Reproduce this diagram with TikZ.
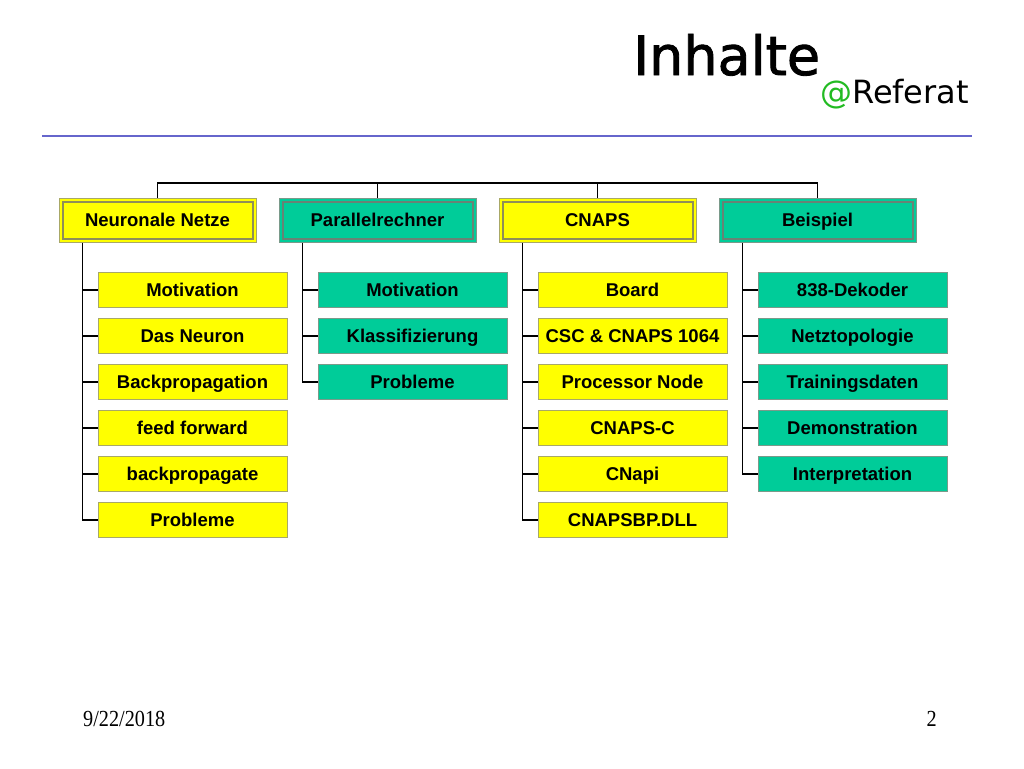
\documentclass[tikz,border=0pt]{standalone}
\usepackage{fontspec}
\setmainfont{Liberation Sans}
\newfontfamily\titlefont[BoldFont={DejaVu Sans}, BoldFeatures={FakeBold=1.6}]{DejaVu Sans}
\newfontfamily\subfont{DejaVu Sans}
\newfontfamily\footfont{Liberation Serif}
\definecolor{boxyellow}{HTML}{FFFF00}
\definecolor{boxteal}{HTML}{00CC99}
\definecolor{yborder}{HTML}{A8A868}
\definecolor{tborder}{HTML}{7A9A8A}
\definecolor{rulecol}{HTML}{6666CC}
\definecolor{atgreen}{HTML}{22BB22}
\tikzset{
  boxtext/.style={font=\bfseries\fontsize{18.5}{20}\selectfont, text=black, inner sep=0pt,
    text height=17pt, text depth=3.7pt},
  parentbox/.style={boxtext, minimum width=197pt, minimum height=44pt, line width=1pt},
  yparent/.style={parentbox, fill=boxyellow, draw=yborder},
  tparent/.style={parentbox, fill=boxteal, draw=tborder},
  childbox/.style={boxtext, minimum width=189pt, minimum height=35.5pt, line width=1pt},
  ychild/.style={childbox, fill=boxyellow, draw=yborder},
  tchild/.style={childbox, fill=boxteal, draw=tborder},
  innery/.style={draw=yborder!85!black, line width=2pt},
  innert/.style={draw=tborder!85!black, line width=2pt},
  conn/.style={draw=black, line width=1.4pt},
}
\begin{document}
\begin{tikzpicture}[x=1pt,y=-1pt]
\useasboundingbox (0,0) rectangle (1024,768);
\fill[white] (0,0) rectangle (1024,768);
% title
\node[anchor=base west, inner sep=0pt] (title) at (633,75) {\titlefont\bfseries\fontsize{54}{60}\selectfont Inhalte};
\node[anchor=base west, inner sep=0pt] (sub) at (820,103) {\subfont\fontsize{32}{36}\selectfont\textcolor{atgreen}{@}Referat};
\draw[rulecol, line width=1.2pt] (42,136) coordinate (r1) -- (972,136) coordinate (r2);
% parents
\node[yparent] (p1) at (157.5,220) {Neuronale Netze};
\node[tparent] (p2) at (377.5,220) {Parallelrechner};
\node[yparent] (p3) at (597.5,220) {CNAPS};
\node[tparent] (p4) at (817.5,220) {Beispiel};
\draw[innery] ([xshift=4pt,yshift=-4pt]p1.north west) rectangle ([xshift=-4pt,yshift=4pt]p1.south east);
\draw[innert] ([xshift=4pt,yshift=-4pt]p2.north west) rectangle ([xshift=-4pt,yshift=4pt]p2.south east);
\draw[innery] ([xshift=4pt,yshift=-4pt]p3.north west) rectangle ([xshift=-4pt,yshift=4pt]p3.south east);
\draw[innert] ([xshift=4pt,yshift=-4pt]p4.north west) rectangle ([xshift=-4pt,yshift=4pt]p4.south east);
% top bus
\coordinate (bus) at (0,183);
\draw[conn] (p1.north) -- (p1.north |- bus) -- (p4.north |- bus) -- (p4.north);
\draw[conn] (p2.north) -- (p2.north |- bus);
\draw[conn] (p3.north) -- (p3.north |- bus);
% trunks
\coordinate (ta) at ([xshift=24pt]p1.south west);
\coordinate (tb) at ([xshift=24pt]p2.south west);
\coordinate (tc) at ([xshift=24pt]p3.south west);
\coordinate (td) at ([xshift=24pt]p4.south west);
% children column 1
\foreach \t [count=\k] in {Motivation,Das Neuron,Backpropagation,feed forward,backpropagate,Probleme}{
  \node[ychild] (a\k) at (192.5,{290+46*(\k-1)}) {\t};
  \draw[conn] (ta |- a\k.west) -- (a\k.west);
}
\draw[conn] (ta) |- (a6.west);
% column 2
\foreach \t [count=\k] in {Motivation,Klassifizierung,Probleme}{
  \node[tchild] (b\k) at (412.5,{290+46*(\k-1)}) {\t};
  \draw[conn] (tb |- b\k.west) -- (b\k.west);
}
\draw[conn] (tb) |- (b3.west);
% column 3
\foreach \t [count=\k] in {Board,CSC \& CNAPS 1064,Processor Node,CNAPS-C,CNapi,CNAPSBP.DLL}{
  \node[ychild] (c\k) at (632.5,{290+46*(\k-1)}) {\t};
  \draw[conn] (tc |- c\k.west) -- (c\k.west);
}
\draw[conn] (tc) |- (c6.west);
% column 4
\foreach \t [count=\k] in {838-Dekoder,Netztopologie,Trainingsdaten,Demonstration,Interpretation}{
  \node[tchild] (d\k) at (852.5,{290+46*(\k-1)}) {\t};
  \draw[conn] (td |- d\k.west) -- (d\k.west);
}
\draw[conn] (td) |- (d5.west);
% footer
\node[anchor=base west, inner sep=0pt] (date) at (83,726) {\footfont\fontsize{23}{25}\selectfont\scalebox{0.88}[1]{9/22/2018}};
\node[anchor=base east, inner sep=0pt] (page) at (937,726) {\footfont\fontsize{23}{25}\selectfont\scalebox{0.88}[1]{2}};
\end{tikzpicture}
\end{document}
